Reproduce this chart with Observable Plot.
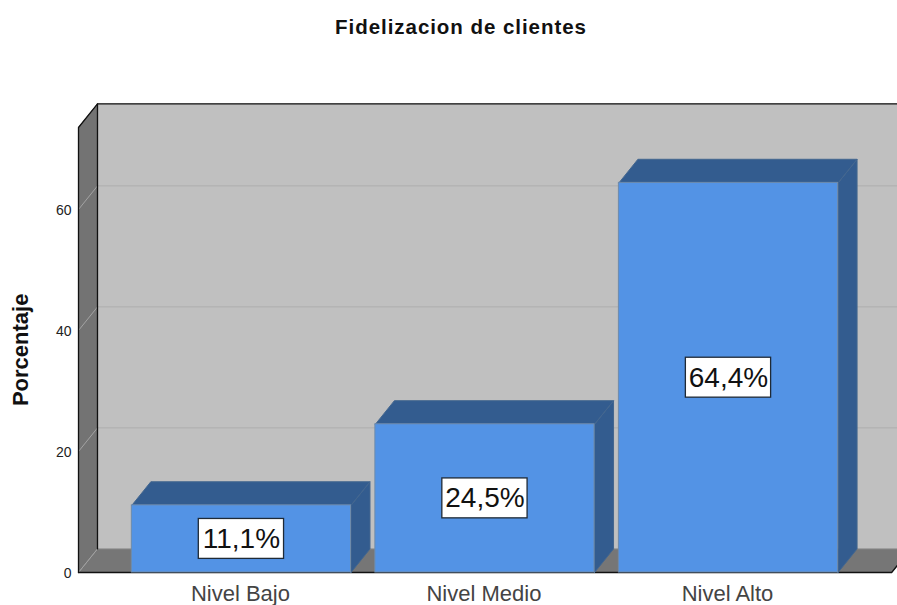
<!DOCTYPE html>
<html>
<head>
<meta charset="utf-8">
<script src="https://cdn.jsdelivr.net/npm/d3@7"></script>
<script src="https://cdn.jsdelivr.net/npm/@observablehq/plot@0.6"></script>
<style>
html,body{margin:0;padding:0;background:#fff;overflow:hidden}
#title{height:50px;text-align:center;padding-left:25px;font:bold 20.5px/54px "Liberation Sans",Arial,sans-serif;letter-spacing:0.95px;color:#111;box-sizing:border-box}
svg{display:block}
</style>
</head>
<body>
<div id="title">Fidelizacion de clientes</div>
<div id="chart"></div>
<script>
const yLabel = "Porcentaje";
const categories = ["Nivel Bajo", "Nivel Medio", "Nivel Alto"];
const percentages = [11.1, 24.5, 64.4];
const percentLabels = ["11,1%", "24,5%", "64,4%"];
const yTicks = [0, 20, 40, 60];

// Box geometry, in scale units
const depthX = 0.078, depthY = 3.9;
const halfBar = 0.45;
const wallLeft = -0.669, wallRight = 2.67, wallTop = 73.55;
const boxHalfW = 0.175, boxHalfH = 3.3;

const bars = percentages.map((v, i) => ({i, v, label: percentLabels[i], x1: i - halfBar, x2: i + halfBar}));
const poly = (id, pts) => pts.concat([pts[0]]).map(([x, y]) => ({id, x, y}));
const L = wallLeft, R = wallRight, T = wallTop, dx = depthX, dy = depthY;

const backWall = poly("back", [[L+dx,dy],[R+dx,dy],[R+dx,T+dy],[L+dx,T+dy]]);
const sideWall = poly("side", [[L,0],[L+dx,dy],[L+dx,T+dy],[L,T]]);
const floorFace = poly("floor", [[L,0],[R,0],[R+dx,dy],[L+dx,dy]]);
const barTops = bars.flatMap(b => poly("t"+b.i, [[b.x1,b.v],[b.x2,b.v],[b.x2+dx,b.v+dy],[b.x1+dx,b.v+dy]]));
const barSides = bars.flatMap(b => poly("s"+b.i, [[b.x2,0],[b.x2+dx,dy],[b.x2+dx,b.v+dy],[b.x2,b.v]]));
const gridBack = yTicks.filter(t => t > 0).flatMap(t => [{id:t,x:L+dx,y:t+dy},{id:t,x:R+dx,y:t+dy}]);
const gridSide = yTicks.flatMap(t => [{id:t,x:L,y:t},{id:t,x:L+dx,y:t+dy}]);
const frameLine = [[L,0],[L,T],[L+dx,T+dy],[R+dx,T+dy]].map(([x,y]) => ({x,y}));
const backEdge = [[L+dx,dy],[L+dx,T+dy]].map(([x,y]) => ({x,y}));
const floorLine = [[L,0],[R,0],[R+dx,dy]].map(([x,y]) => ({x,y}));

const face = (data, fill, stroke) => Plot.line(data, {x:"x", y:"y", z:"id", fill, stroke: stroke || fill, strokeWidth:1, curve:"linear"});
const sans = "Liberation Sans, Arial, sans-serif";

const chart = Plot.plot({
  width: 897, height: 555,
  marginTop: 38, marginBottom: 33, marginLeft: 78, marginRight: 0,
  x: {domain: [wallLeft, 2.694]},
  y: {domain: [0, 80]},
  style: {background: "transparent"},
  marks: [
    face(backWall, "#c0c0c0"),
    Plot.line(gridBack, {x:"x", y:"y", z:"id", stroke:"#adadad", strokeWidth:1}),
    face(sideWall, "#737373"),
    face(floorFace, "#767676", "#8a8a8a"),
    Plot.line(gridSide, {x:"x", y:"y", z:"id", stroke:"#a3a3a3", strokeWidth:1}),
    Plot.line(frameLine, {x:"x", y:"y", stroke:"#111", strokeWidth:1.3}),
    Plot.line(backEdge, {x:"x", y:"y", stroke:"#111", strokeWidth:1.3}),
    Plot.line(floorLine, {x:"x", y:"y", stroke:"#111", strokeWidth:1.3}),
    face(barSides, "#335c8f", "#44678f"),
    face(barTops, "#335c8f", "#44678f"),
    Plot.rect(bars, {x1:"x1", x2:"x2", y1:0, y2:"v", fill:"#5393e5", stroke:"#6f8bab", strokeWidth:1}),
    Plot.rect(bars, {
      x1: d => d.i - boxHalfW, x2: d => d.i + boxHalfW,
      y1: d => d.v/2 - boxHalfH, y2: d => d.v/2 + boxHalfH,
      fill:"#fff", stroke:"#1f2a36", strokeWidth:1.3
    }),
    Plot.text(bars, {x:"i", y: d => d.v/2, text:"label", fontSize:28, fill:"#111", fontFamily:sans}),
    Plot.axisY(yTicks, {tickSize:0, tickPadding:7, dy:1.5, fontSize:14, label:null, fill:"#222", fontFamily:sans}),
    Plot.axisX([0,1,2], {tickSize:0, tickPadding:13, dx:-1, fontSize:22, label:null, tickFormat: i => categories[i], fill:"#444", fontFamily:sans}),
    Plot.text([yLabel], {frameAnchor:"left", textAnchor:"middle", y:36.8, dx:-58, rotate:-90, text:d=>d, fontSize:22, fontWeight:"bold", fill:"#111", fontFamily:sans})
  ]
});
document.getElementById("chart").append(chart);
</script>
</body>
</html>
